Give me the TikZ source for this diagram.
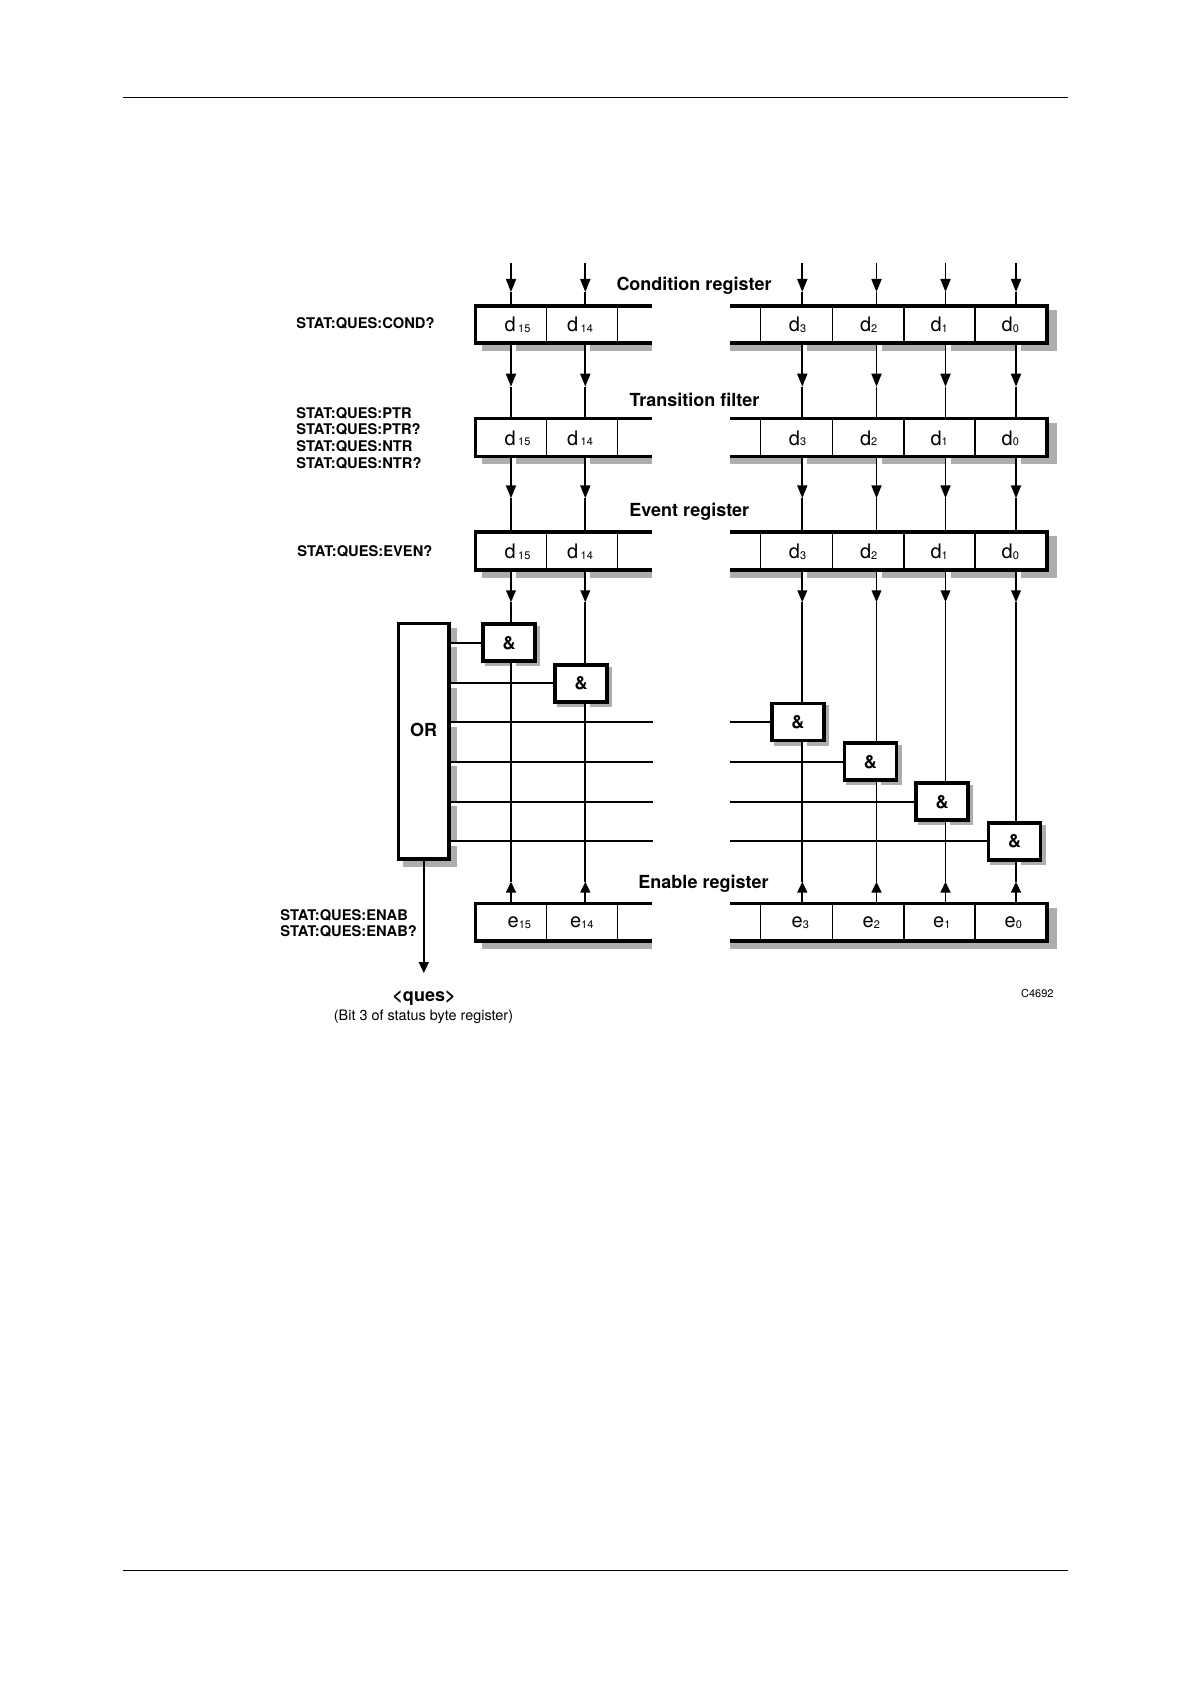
\documentclass[tikz,border=0pt]{standalone}
\usepackage{fontspec}
\setmainfont{TeX Gyre Heros}
\usetikzlibrary{arrows.meta,calc,backgrounds}

\newcommand\RegRow[2]{%
  \fill[white] (473.5,#1) rectangle (652,#2);
  \fill[white] (730,#1) rectangle (1048.5,#2);
  \foreach \xx in {546.7,617.7,760.7,832.3,904,975}{\draw[divline] (\xx,#1) -- (\xx,#2);}
  \draw[regline] (652,{#1+1.75}) -- (475.25,{#1+1.75}) -- (475.25,{#2-1.75}) -- (652,{#2-1.75});
  \draw[regline] (730,{#1+1.75}) -- (1046.75,{#1+1.75}) -- (1046.75,{#2-1.75}) -- (730,{#2-1.75});
}
\newcommand\RegShadow[2]{%
  \fill[shadowc] (481.5,{#1+6}) rectangle (652,{#2+6});
  \fill[shadowc] (730,{#1+6}) rectangle (1056.5,{#2+6});
}
\newcommand\CellD[2]{{\fontsize{10}{12}\selectfont #1}\raisebox{-0.4pt}{\fontsize{5.5}{6}\selectfont #2}}

\begin{document}
\begin{tikzpicture}[x=0.5pt,y=-0.5pt,
  regline/.style={line width=1.75pt},
  divline/.style={line width=0.6pt},
  conn/.style={line width=0.9pt},
  darr/.style={conn,-{Triangle[length=6.5pt,width=5pt]}},
  garr/.style={conn,-{Triangle[length=6pt,width=4.8pt]}},
  uarr/.style={conn,-{Triangle[length=5.5pt,width=5pt]}},
  shadowc/.style={fill=black!32},
  andgate/.style={draw,line width=1.75pt,fill=white,minimum width=26pt,minimum height=18.5pt,inner sep=0pt,font=\bfseries\fontsize{9}{10}\selectfont},
  orstyle/.style={draw,line width=1.75pt,fill=white,minimum width=25.4pt,minimum height=117.75pt,inner sep=0pt},
  lbl/.style={font=\bfseries\fontsize{7.35}{8.5}\selectfont,anchor=base west,inner sep=0pt},
  ttl/.style={font=\bfseries\fontsize{9}{10}\selectfont,anchor=base,inner sep=0pt},
  cell/.style={anchor=base,inner sep=0pt},
  rule/.style={line width=0.55pt}
]
\useasboundingbox (0,0) rectangle (1190,1684);

% page rules
\coordinate (hdrL) at (123,97.3);
\coordinate (hdrR) at (1067.7,97.3);
\coordinate (ftrL) at (123,1570.7);
\coordinate (ftrR) at (1067.7,1570.7);
\draw[rule] (hdrL) -- (hdrR);
\draw[rule] (ftrL) -- (ftrR);

% registers
\RegRow{304.5}{345}
\RegRow{416.7}{458}
\RegRow{530}{571.5}
\RegRow{901.7}{942.7}

% connection coordinates
\foreach \nn/\xx in {15/511,14/585.3,3/802.3,2/876.5,1/945.5,0/1016}{
  \coordinate (in\nn) at (\xx,262.7);
  \coordinate (condT\nn) at (\xx,304.5);
  \coordinate (condB\nn) at (\xx,345);
  \coordinate (tranT\nn) at (\xx,416.7);
  \coordinate (tranB\nn) at (\xx,458);
  \coordinate (evenT\nn) at (\xx,530);
  \coordinate (evenB\nn) at (\xx,571.5);
  \coordinate (enabT\nn) at (\xx,901.7);
  \coordinate (tA\nn) at (\xx,292);
  \coordinate (tB\nn) at (\xx,386.7);
  \coordinate (tC\nn) at (\xx,498.3);
  \coordinate (tD\nn) at (\xx,602.3);
  \coordinate (tE\nn) at (\xx,881.7);
}

% AND gates
\node[andgate] (g15) at (509.2,642.7) {\&};
\node[andgate] (g14) at (581,683.3) {\&};
\node[andgate] (g3) at (797.8,722.2) {\&};
\node[andgate] (g2) at (870.3,761.7) {\&};
\node[andgate] (g1) at (942.2,801.7) {\&};
\node[andgate] (g0) at (1014.5,841.3) {\&};

% OR gate
\node[orstyle] (orbox) at (423.8,741.2) {};
\node[font=\bfseries\fontsize{9}{10}\selectfont,inner sep=0pt] (orlbl) at (423.5,730) {OR};

% vertical connectors
\foreach \nn in {15,14,3,2,1,0}{
  \draw[darr] (in\nn) -- (tA\nn);
  \draw[conn] (tA\nn) -- (condT\nn);
  \draw[darr] (condB\nn) -- (tB\nn);
  \draw[conn] (tB\nn) -- (tranT\nn);
  \draw[darr] (tranB\nn) -- (tC\nn);
  \draw[conn] (tC\nn) -- (evenT\nn);
  \draw[garr] (evenB\nn) -- (tD\nn);
  \draw[conn] (tD\nn) -- (g\nn.north -| tD\nn);
  \draw[uarr] (enabT\nn) -- (tE\nn);
  \draw[conn] (tE\nn) -- (g\nn.south -| tE\nn);
}

% horizontal connectors OR -> gates
\coordinate (brkL) at (653,0);
\coordinate (brkR) at (730,0);
\draw[conn] (orbox.east |- g15.west) -- (g15.west);
\draw[conn] (orbox.east |- g14.west) -- (g14.west);
\foreach \nn in {3,2,1,0}{
  \draw[conn] (orbox.east |- g\nn.west) -- (brkL |- g\nn.west);
  \draw[conn] (brkR |- g\nn.west) -- (g\nn.west);
}

% OR output
\coordinate (qtip) at (423.8,973);
\draw[uarr] (orbox.south) -- (qtip);

% titles
\node[ttl] (tcond) at (694,290.7) {Condition register};
\node[ttl] (ttran) at (694.4,406.7) {Transition filter};
\node[ttl] (teven) at (689.3,516) {Event register};
\node[ttl] (tenab) at (703.5,888.3) {Enable register};

% left command labels
\node[lbl] (lcond) at (296,328.3) {STAT:QUES:COND?};
\node[lbl] (lptr1) at (296,418.3) {STAT:QUES:PTR};
\node[lbl] (lptr2) at (296,435) {STAT:QUES:PTR?};
\node[lbl] (lntr1) at (296,451.7) {STAT:QUES:NTR};
\node[lbl] (lntr2) at (296,468.3) {STAT:QUES:NTR?};
\node[lbl] (leven) at (297,556.7) {STAT:QUES:EVEN?};
\node[lbl] (lenab1) at (280,920) {STAT:QUES:ENAB};
\node[lbl] (lenab2) at (280,936.7) {STAT:QUES:ENAB?};

% bottom labels
\node[ttl] (ques) at (424,1001.7) {<ques>};
\node[anchor=base,inner sep=0pt,font=\fontsize{7.2}{8}\selectfont] (bit3) at (423.5,1020) {(Bit 3 of status byte register)};
\node[anchor=base west,inner sep=0pt,font=\fontsize{5.5}{6}\selectfont] (code) at (1020.7,997.3) {C4692};

% cell labels
\foreach \yy/\rr in {332/c,445/t,558.3/e}{
  \node[cell] (\rr-d15) at (517.5,\yy) {\CellD{d}{\hspace{1.2pt}15}};
  \node[cell] (\rr-d14) at (580,\yy) {\CellD{d}{\hspace{1.2pt}14}};
  \node[cell] (\rr-d3) at (797.5,\yy) {\CellD{d}{3}};
  \node[cell] (\rr-d2) at (868.7,\yy) {\CellD{d}{2}};
  \node[cell] (\rr-d1) at (939.2,\yy) {\CellD{d}{1}};
  \node[cell] (\rr-d0) at (1010.3,\yy) {\CellD{d}{0}};
}
\node[cell] (e15) at (519.3,927.5) {\CellD{e}{15}};
\node[cell] (e14) at (581.7,927.5) {\CellD{e}{14}};
\node[cell] (e3) at (800.3,927.5) {\CellD{e}{3}};
\node[cell] (e2) at (871.3,927.5) {\CellD{e}{2}};
\node[cell] (e1) at (941.8,927.5) {\CellD{e}{1}};
\node[cell] (e0) at (1013.3,927.5) {\CellD{e}{0}};

% shadows and white gaps
\begin{scope}[on background layer]
  \RegShadow{304.5}{345}
  \RegShadow{416.7}{458}
  \RegShadow{530}{571.5}
  \RegShadow{901.7}{942.7}
  \fill[shadowc] ($(orbox.south west)+(6,6)$) rectangle ($(orbox.north east)+(6,6)$);
  \foreach \nn in {15,14,3,2,1,0}{
    \fill[shadowc] ($(g\nn.south west)+(3.5,3.5)$) rectangle ($(g\nn.north east)+(3.5,3.5)$);
  }
  \foreach \nn in {15,14,3,2,1,0}{
    \foreach \rr in {condB,tranB,evenB}{
      \fill[white] ($(\rr\nn)+(-0.8,0)$) rectangle ($(\rr\nn)+(5,9)$);
    }
    \fill[white] ($(g\nn.south -| tE\nn)+(-0.8,0)$) rectangle ($(g\nn.south -| tE\nn)+(4.5,6)$);
    \fill[white] ($(orbox.east |- g\nn.west)+(0,-0.8)$) rectangle ($(orbox.east |- g\nn.west)+(8,4.5)$);
  }
\end{scope}
\end{tikzpicture}
\end{document}
